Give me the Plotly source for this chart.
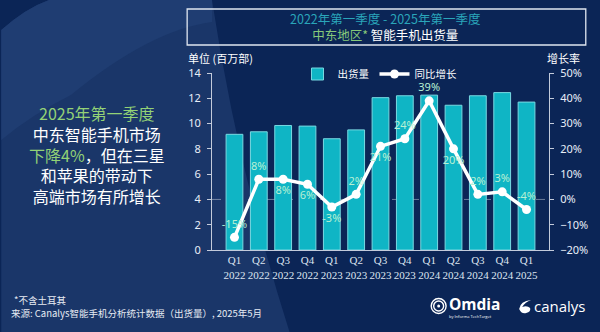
import plotly.graph_objects as go

quarters = ["Q1", "Q2", "Q3", "Q4", "Q1", "Q2", "Q3", "Q4", "Q1", "Q2", "Q3", "Q4", "Q1"]
years = ["2022", "2022", "2022", "2022", "2023", "2023", "2023", "2023", "2024", "2024", "2024", "2024", "2025"]
shipments = [9.15, 9.35, 9.85, 9.8, 8.8, 9.5, 12.05, 12.2, 12.25, 11.45, 12.2, 12.45, 11.7]
growth = [-15, 8, 8, 6, -3, 2, 21, 24, 39, 20, 2, 3, -4]
growth_labels = ["-15%", "8%", "8%", "6%", "-3%", "2%", "21%", "24%", "39%", "20%", "2%", "3%", "-4%"]
label_pos = ["top center", "top center", "bottom center", "bottom center", "bottom center",
             "top center", "bottom center", "top center", "top center", "bottom center",
             "top center", "top center", "top center"]

cats = [f"{q}<br>{y}" for q, y in zip(quarters, years)]

W, H = 600, 332
ML, MR, MT, MB = 212, 49, 73, 82
PW = W - ML - MR
PH = H - MT - MB


def px(x):
    return (x - ML) / PW


def py(y):
    return (H - MB - y) / PH


def path(cmds):
    out = []
    for c in cmds:
        if isinstance(c, str):
            out.append(c)
        else:
            out.append(f"{px(c[0]):.4f},{py(c[1]):.4f}")
    return " ".join(out)


fig = go.Figure()
fig.add_trace(go.Bar(
    x=cats, y=shipments, name="出货量",
    marker=dict(color="#0fb5c5", line=dict(color="#79d9e2", width=1)),
    yaxis="y",
))
fig.add_trace(go.Scatter(
    x=cats, y=growth, name="同比增长", mode="lines+markers+text",
    line=dict(color="white", width=3.5),
    marker=dict(color="white", size=9),
    text=growth_labels, textposition=label_pos,
    textfont=dict(color="#b8f0d4", size=11, family="Noto Sans"),
    yaxis="y2", cliponaxis=False,
))

shapes = []
# background swoosh
shapes.append(dict(
    type="path", xref="paper", yref="paper", layer="below",
    path=path(["M", (0, 30), "Q", (25, 8), (48, 0), "L", (212, 0), "Q", (238, 170), (290, 332),
               "L", (0, 332), "Z"]),
    fillcolor="#1a3669", line=dict(width=0),
))
shapes.append(dict(
    type="path", xref="paper", yref="paper", layer="below",
    path=path(["M", (70, 95), "Q", (150, 30), (212, 22), "L", (212, 0), "L", (48, 0), "Q", (25, 8), (0, 30),
               "L", (0, 140), "Q", (30, 115), (70, 95), "Z"]),
    fillcolor="#1f3d72", line=dict(width=0),
))
# title box
shapes.append(dict(
    type="rect", xref="paper", yref="paper",
    x0=px(187), x1=px(588), y0=py(9), y1=py(45),
    line=dict(color="#dfe6f0", width=1.3),
))
# zero dashed line
shapes.append(dict(
    type="line", xref="paper", yref="y2", x0=0, x1=1, y0=0, y1=0,
    line=dict(color="rgba(255,255,255,0.4)", width=1, dash="dash"), layer="below",
))
# Omdia icon
for r in (7.5, 5):
    shapes.append(dict(
        type="circle", xref="paper", yref="paper",
        x0=px(440 - r), x1=px(440 + r), y0=py(306 - r), y1=py(306 + r),
        line=dict(color="white", width=1.4),
    ))
shapes.append(dict(
    type="circle", xref="paper", yref="paper",
    x0=px(438.5), x1=px(441.5), y0=py(304.5), y1=py(307.5),
    fillcolor="white", line=dict(width=0),
))
# canalys icon
shapes.append(dict(
    type="path", xref="paper", yref="paper",
    path=path(["M", (533, 300), "Q", (522, 301), (521, 309), "Q", (523, 314), (528, 313),
               "Q", (533, 312), (532, 308), "Q", (529, 305), (524, 307), "Q", (527, 302), (533, 300), "Z"]),
    fillcolor="white", line=dict(width=0),
))

ann = []


def add_text(x, y, text, size, color="white", xanchor="center", family="Noto Sans CJK SC", bold=False):
    if bold:
        text = f"<b>{text}</b>"
    ann.append(dict(
        x=px(x), y=py(y), xref="paper", yref="paper", text=text, showarrow=False,
        xanchor=xanchor, yanchor="middle", font=dict(size=size, color=color, family=family),
        borderpad=0,
    ))


GREEN = "#93d276"
title_text = (
    "<span style='color:#2aa6ba'>2022年第一季度 - 2025年第一季度</span><br>"
    "<span style='color:#86c97a'>中东地区*</span> 智能手机出货量"
)
ann.append(dict(
    x=px(387), y=py(27), xref="paper", yref="paper", text=title_text, showarrow=False,
    xanchor="center", yanchor="middle", align="center",
    font=dict(size=12.5, color="white", family="Noto Sans CJK SC"),
))
add_text(187, 58, "单位 (百万部)", 11, xanchor="left")
add_text(583, 58, "增长率", 11, xanchor="right")

side_text = (
    f"<span style='color:{GREEN}'>2025年第一季度</span><br>"
    "中东智能手机市场<br>"
    f"<span style='color:{GREEN}'>下降4%</span>，但在三星<br>"
    "和苹果的带动下<br>"
    "高端市场有所增长"
)
ann.append(dict(
    x=px(96), y=py(154), xref="paper", yref="paper", text=side_text, showarrow=False,
    xanchor="center", yanchor="middle", align="center",
    font=dict(size=16, color="white", family="Noto Sans CJK SC"),
))

add_text(12, 300, "*不含土耳其", 9.5, xanchor="left", color="#e6ebf3")
add_text(9, 313, "来源: Canalys智能手机分析统计数据（出货量）, 2025年5月", 9.5, xanchor="left", color="#e6ebf3")

add_text(449, 304, "Omdia", 15.5, xanchor="left", family="Open Sans", bold=True)
add_text(449, 316, "by Informa TechTarget", 4, xanchor="left", family="Open Sans")
add_text(535, 306, "canalys", 15, xanchor="left", family="Open Sans")

AXC = "#c3cbdb"
fig.update_layout(
    width=W, height=H,
    margin=dict(l=ML, r=MR, t=MT, b=MB, pad=0),
    paper_bgcolor="#0b2556",
    plot_bgcolor="rgba(0,0,0,0)",
    font=dict(family="Noto Sans CJK SC", color="white"),
    bargap=0.31,
    showlegend=True,
    legend=dict(
        orientation="h", x=px(298), y=py(74), xanchor="left", yanchor="middle",
        bgcolor="rgba(0,0,0,0)", font=dict(size=10.5, color="white"),
        itemwidth=30, tracegroupgap=0,
    ),
    xaxis=dict(
        showline=True, linecolor=AXC, linewidth=1, ticks="", showgrid=False,
        tickangle=0, automargin=False,
        tickfont=dict(family="Liberation Serif", size=11, color="#dde4f0"),
    ),
    yaxis=dict(
        range=[0, 14], dtick=2, showline=True, linecolor=AXC, linewidth=1,
        ticks="outside", ticklen=4, tickcolor=AXC, showgrid=False, zeroline=False,
        tickfont=dict(size=11, color="#e8eef8", family="Noto Sans"), ticklabelstandoff=4,
    ),
    yaxis2=dict(
        range=[-20, 50], dtick=10, ticksuffix="%", overlaying="y", side="right",
        showline=True, linecolor=AXC, linewidth=1, ticks="outside", ticklen=4,
        tickcolor=AXC, showgrid=False, zeroline=False,
        tickfont=dict(size=11, color="#e8eef8", family="Noto Sans"), ticklabelstandoff=4,
    ),
    shapes=shapes,
    annotations=ann,
)

fig.write_html("out.html")
